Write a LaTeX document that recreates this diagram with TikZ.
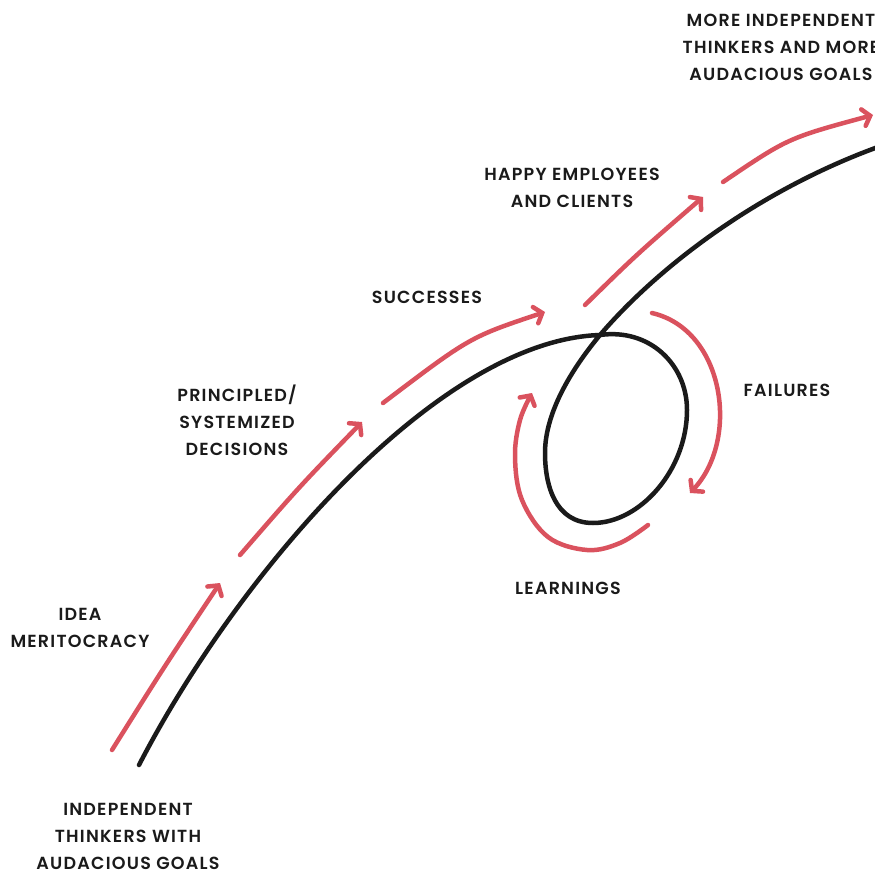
\documentclass[tikz,border=0pt]{standalone}
\usepackage{fontspec}
\usepackage{xcolor}
\usepackage{tikz}
\usetikzlibrary{arrows.meta}
\newfontfamily\lblfont{Poppins SemiBold}[LetterSpace=7]
\definecolor{arrowred}{RGB}{218,82,94}
\definecolor{inkblack}{RGB}{26,26,26}
\tikzset{
  lbl/.style={align=center, text=inkblack, font=\lblfont\fontsize{17.5}{27}\selectfont},
  track/.style={draw=inkblack, line width=4.5pt, line cap=round},
  arrow/.style={draw=arrowred, line width=4.5pt, line cap=round, -{Straight Barb[length=7pt, width=17pt, line cap=round]}},
}

\begin{document}
\begin{tikzpicture}[x=1pt, y=-1pt]
    \useasboundingbox (0,0) rectangle (875,872);
    % black line with the loop
    \draw[track] (139,765) .. controls (240,570) and (440,340) .. (600,335)
      .. controls (650,328) and (687,365) .. (687,410)
      .. controls (687,470) and (640,523) .. (593,523)
      .. controls (555,523) and (545,485) .. (545,453)
      .. controls (545,410) and (575,365) .. (600,335)
      .. controls (660,265) and (760,190) .. (878,147);
    % red arrows along the line
    \draw[arrow] (112,750) .. controls (164,667) .. (220,583);
    \draw[arrow] (240,555) .. controls (299,487) .. (362,422);
    \draw[arrow] (383,403) .. controls (470,337) .. (545,312);
    \draw[arrow] (585,305) .. controls (636,255) .. (703,197);
    \draw[arrow] (723,182) .. controls (788,138) .. (873,115);
    % round the loop
    \draw[arrow] (652,313) .. controls (725,330) and (740,440) .. (690,493);
    \draw[arrow] plot[smooth, tension=0.6] coordinates {(648,525) (620,543) (587,550) (548,537) (522,500) (515,457) (520,420) (532,393)};
    % labels
    \node[lbl] (start) at (128,836) {INDEPENDENT\\THINKERS WITH\\AUDACIOUS GOALS};
    \node[lbl] (idea) at (80,628) {IDEA\\MERITOCRACY};
    \node[lbl] (decisions) at (237,420) {PRINCIPLED/\\SYSTEMIZED\\DECISIONS};
    \node[lbl] (successes) at (427,297) {SUCCESSES};
    \node[lbl] (happy) at (572,188) {HAPPY EMPLOYEES\\AND CLIENTS};
    \node[lbl] (goals) at (781,47) {MORE INDEPENDENT\\THINKERS AND MORE\\AUDACIOUS GOALS};
    \node[lbl] (failures) at (787,390) {FAILURES};
    \node[lbl] (learnings) at (568,588) {LEARNINGS};
\end{tikzpicture}
\end{document}
